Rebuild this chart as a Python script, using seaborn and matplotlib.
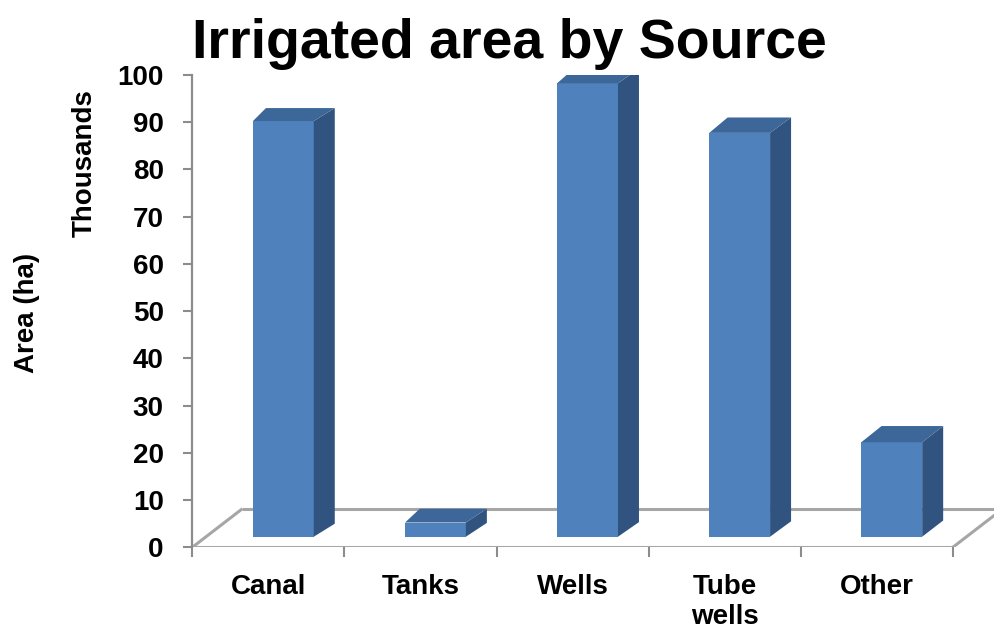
import numpy as np
import matplotlib
matplotlib.use("Agg")
import matplotlib.pyplot as plt
from matplotlib.patches import Polygon
import seaborn as sns

# Irrigated area by source (thousand ha)
categories = ["Canal", "Tanks", "Wells", "Tube\nwells", "Other"]
values = [88, 3, 96, 85.5, 20]
y_ticks = [0, 10, 20, 30, 40, 50, 60, 70, 80, 90, 100]

FRONT = "#4F81BD"
TOP = "#3D6798"
SIDE = "#30537F"
AXIS_GREY = "#8C8C8C"
FLOOR_GREY = "#A6A6A6"

sns.set_theme(style="white")
plt.rcParams["font.family"] = ["Liberation Sans", "DejaVu Sans"]
plt.rcParams["font.weight"] = "bold"
plt.rcParams["text.color"] = "black"
plt.rcParams["xtick.labelcolor"] = "black"
plt.rcParams["ytick.labelcolor"] = "black"

W, H = 994, 632
fig = plt.figure(figsize=(W / 100, H / 100), dpi=100)
# axes placed in pixel terms: left spine at x=192, y from 547 (0) to 75 (100)
left_px, right_px, bottom_px, top_px = 192.3, 994, 547.3, 75
ax = fig.add_axes([left_px / W, 1 - bottom_px / H,
                   (right_px - left_px) / W, (bottom_px - top_px) / H])
cat_px = 152.1

# column front faces
sns.barplot(x=categories, y=values, width=0.4, color=FRONT, saturation=1,
            ax=ax, zorder=3, linewidth=0)

ax.set_xlim(-0.5, -0.5 + (right_px - left_px) / cat_px)
ax.set_ylim(0, 100)

# pixel -> data scale factors
sx = 1 / cat_px
sy = 100 / (bottom_px - top_px)

# floor of the 3D box (drawn behind the columns)
floor_depth_x = 50 * sx
floor_depth_y = 38.5 * sy
floor_kw = dict(color=FLOOR_GREY, lw=2.2, zorder=1, solid_capstyle="butt")
ax.plot([-0.5, 4.5], [0, 0], **floor_kw)
ax.plot([-0.5 + floor_depth_x, 4.5 + floor_depth_x], [floor_depth_y] * 2, **floor_kw)
ax.plot([-0.5, -0.5 + floor_depth_x], [0, floor_depth_y], **floor_kw)
ax.plot([4.5, 4.5 + floor_depth_x], [0, floor_depth_y], **floor_kw)

base = 10.6 * sy          # columns stand a little behind the front edge
shift = 15 * sx           # columns sit right of the category centre
for i, (p, v) in enumerate(zip(ax.patches, values)):
    p.set_x(p.get_x() + shift)
    p.set_y(base)
    p.set_height(v)
    x0, x1 = p.get_x(), p.get_x() + p.get_width()
    top = base + v
    dxl = (13 + 1.8 * i) * sx
    dxr = 21 * sx
    dy = (13 + 0.8 * i) * sy
    ax.add_patch(Polygon([(x1, base), (x1, top), (x1 + dxr, top + dy),
                          (x1 + dxr, base + dy)], closed=True,
                         facecolor=SIDE, edgecolor="none", zorder=3))
    ax.add_patch(Polygon([(x0, top), (x1, top), (x1 + dxr, top + dy),
                          (x0 + dxl, top + dy)], closed=True,
                         facecolor=TOP, edgecolor="none", zorder=3))

# axes styling
for s in ["top", "right", "bottom"]:
    ax.spines[s].set_visible(False)
ax.spines["left"].set_color(AXIS_GREY)
ax.spines["left"].set_linewidth(1.6)

ax.set_yticks(y_ticks)
ax.tick_params(axis="y", which="major", left=True, length=6.5, width=1.5,
               color=AXIS_GREY, pad=14, labelsize=20, labelcolor="black")
ax.set_xticks(range(len(categories)))
ax.set_xticklabels(categories, fontsize=20, fontweight="bold", linespacing=1.2)
ax.set_xticks(np.arange(-0.5, len(categories)), minor=True)
ax.tick_params(axis="x", which="major", bottom=True, length=0, pad=19,
               labelcolor="black")
ax.tick_params(axis="x", which="minor", bottom=True, length=7, width=1.5,
               color=AXIS_GREY)
for lab in ax.get_yticklabels():
    lab.set_fontweight("bold")
ax.set_xlabel("")
ax.set_ylabel("")

fig.text(509.5 / W, 1 - 58 / H, "Irrigated area by Source", ha="center",
         va="baseline", fontsize=40, fontweight="bold", color="black")
fig.text(27 / W, 1 - 313 / H, "Area (ha)", rotation=90, ha="center",
         va="center", fontsize=20, fontweight="bold", color="black")
fig.text(85 / W, 1 - 163 / H, "Thousands", rotation=90, ha="center",
         va="center", fontsize=20, fontweight="bold", color="black")

fig.savefig("out.png", dpi=100, facecolor="white")
